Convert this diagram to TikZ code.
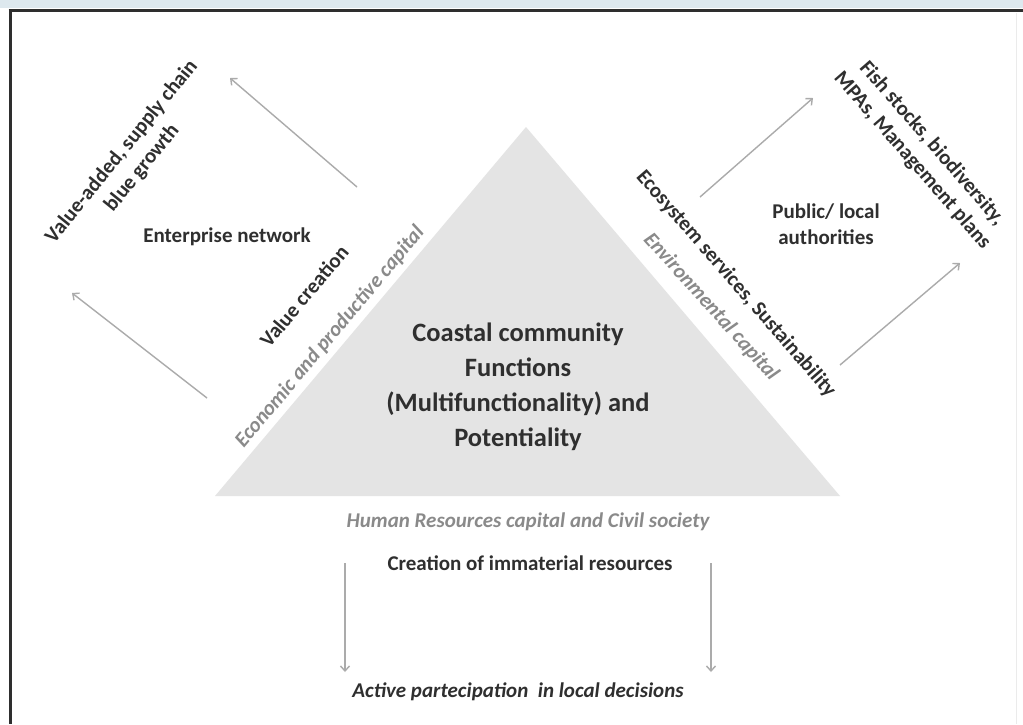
\documentclass[tikz,border=0pt]{standalone}
\usepackage{fontspec}
\setmainfont{Carlito}
\usetikzlibrary{arrows.meta}
\definecolor{band}{HTML}{DDE8EE}
\definecolor{frame}{HTML}{2E2E2E}
\definecolor{tri}{HTML}{E4E4E4}
\definecolor{dark}{HTML}{2F2F2F}
\definecolor{soft}{HTML}{8A8A8A}
\definecolor{arr}{HTML}{ABABAB}
\tikzset{
  lab/.style={text=dark, font=\bfseries\fontsize{21}{26}\selectfont, inner sep=0pt, align=center},
  greylab/.style={text=soft, font=\bfseries\itshape\fontsize{21}{26}\selectfont, inner sep=0pt, align=center},
  big/.style={text=dark, font=\bfseries\fontsize{26.5}{35}\selectfont, inner sep=0pt, align=center},
  flow/.style={draw=arr, line width=1.4pt, -{Straight Barb[length=5pt,width=9pt,line width=1.4pt]}}
}
\begin{document}
\begin{tikzpicture}[x=1pt,y=-1pt]
\useasboundingbox (0,0) rectangle (1023,724);
\fill[white] (0,0) rectangle (1023,724);
% frame
\fill[band] (0,0) rectangle (1023,8);
\draw[frame, line width=3pt] (8.5,10.5) -- (1023,10.5);
\draw[frame, line width=3pt] (10,9) -- (10,724);
\draw[black!8, line width=0.8pt] (1016,13) -- (1016,724);
% triangle
\coordinate (apex) at (526,127);
\coordinate (bl) at (215,496);
\coordinate (br) at (840,496);
\fill[tri] (apex) -- (br) -- (bl) -- cycle;
% centre text
\node[big] (core) at (518,387) {Coastal community\\Functions\\(Multifunctionality) and\\Potentiality};
% left side
\node[lab] (ent) at (227,237) {Enterprise network};
\node[lab, rotate=51] (va) at (132,160) {Value-added, supply chain\\blue growth};
\node[lab, rotate=50] (vc) at (304,296) {Value creation};
\node[greylab, rotate=50] (econ) at (330,337) {Economic and productive capital};
% right side
\node[lab] (pub) at (826,224) {Public/ local\\authorities};
\node[lab, rotate=-49] (fish) at (922,152) {Fish stocks, biodiversity,\\MPAs, Management plans};
\node[lab, rotate=-49] (eco) at (736,284) {Ecosystem services, Sustainability};
\node[greylab, rotate=-48] (env) at (711,307) {Environmental capital};
% bottom
\node[greylab] (hum) at (528,522) {Human Resources capital and Civil society};
\node[lab] (cre) at (530,563) {Creation of immaterial resources};
\node[lab, font=\bfseries\itshape\fontsize{21}{26}\selectfont] (act) at (518,692) {Active partecipation\ \ in local decisions};
% arrow end points
\coordinate (l1s) at (357,187); \coordinate (l1e) at (230,78);
\coordinate (l2s) at (207,398); \coordinate (l2e) at (72,293);
\coordinate (r1s) at (700,197); \coordinate (r1e) at (813,98);
\coordinate (r2s) at (840,365); \coordinate (r2e) at (960,263);
\coordinate (d1s) at (345,563); \coordinate (d1e) at (345,672);
\coordinate (d2s) at (711,563); \coordinate (d2e) at (711,672);
\draw[flow] (l1s) -- (l1e);
\draw[flow] (l2s) -- (l2e);
\draw[flow] (r1s) -- (r1e);
\draw[flow] (r2s) -- (r2e);
\draw[flow] (d1s) -- (d1e);
\draw[flow] (d2s) -- (d2e);
\end{tikzpicture}
\end{document}
